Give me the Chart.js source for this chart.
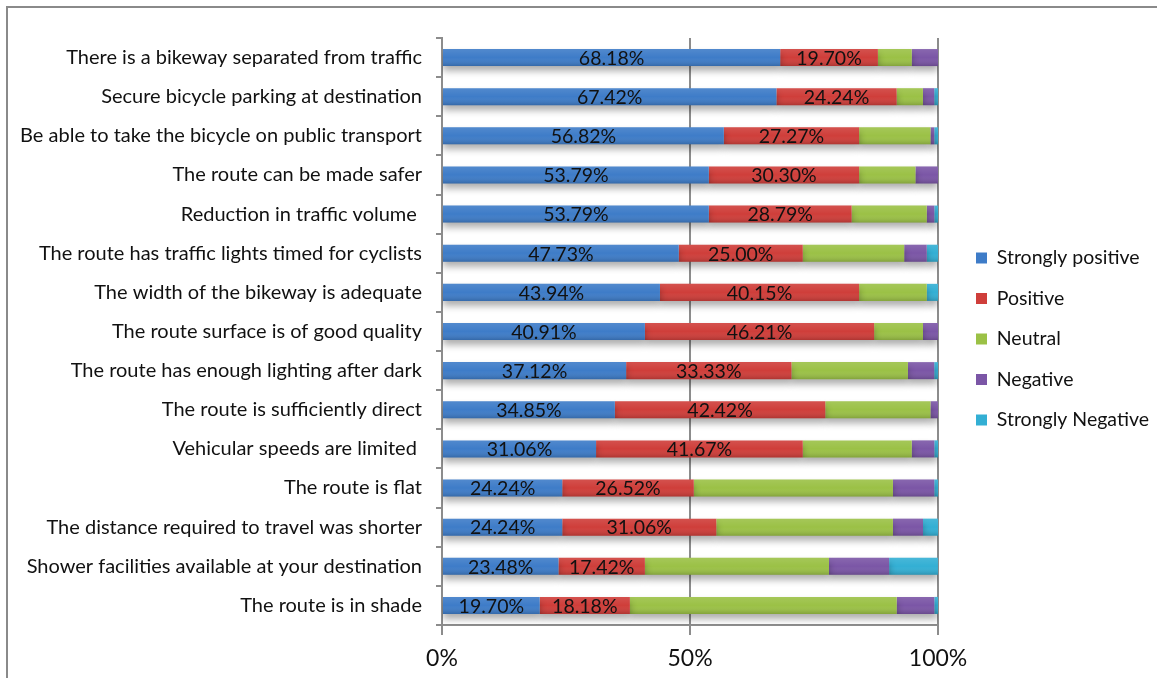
<!DOCTYPE html>
<html>
<head>
<meta charset="utf-8">
<script src="https://cdn.jsdelivr.net/npm/chart.js@4.4.1/dist/chart.umd.min.js"></script>
<style>
  html, body { margin: 0; padding: 0; background: #fff; }
  #wrap { width: 1157px; height: 678px; position: relative; }
</style>
</head>
<body>
<div id="wrap"><canvas id="chart"></canvas></div>
<script>
'use strict';

const categories = [
  'There is a bikeway separated from traffic',
  'Secure bicycle parking at destination',
  'Be able to take the bicycle on public transport',
  'The route can be made safer',
  'Reduction in traffic volume ',
  'The route has traffic lights timed for cyclists',
  'The width of the bikeway is adequate',
  'The route surface is of good quality',
  'The route has enough lighting after dark',
  'The route is sufficiently direct',
  'Vehicular speeds are limited ',
  'The route is flat',
  'The distance required to travel was shorter',
  'Shower facilities available at your destination',
  'The route is in shade',
];

const seriesNames = ['Strongly positive', 'Positive', 'Neutral', 'Negative', 'Strongly Negative'];

const stronglyPositive = [68.18, 67.42, 56.82, 53.79, 53.79, 47.73, 43.94, 40.91, 37.12, 34.85, 31.06, 24.24, 24.24, 23.48, 19.70];
const positive = [19.70, 24.24, 27.27, 30.30, 28.79, 25.00, 40.15, 46.21, 33.33, 42.42, 41.67, 26.52, 31.06, 17.42, 18.18];
const neutral = [6.82, 5.30, 14.39, 11.36, 15.15, 20.45, 13.64, 9.85, 23.48, 21.21, 21.97, 40.15, 35.61, 37.12, 53.79];
const negative = [5.30, 2.27, 0.76, 4.55, 1.52, 4.55, 0, 3.03, 5.30, 1.52, 4.55, 8.33, 6.06, 12.12, 7.58];
const stronglyNegative = [0, 0.76, 0.76, 0, 0.76, 2.27, 2.27, 0, 0.76, 0, 0.76, 0.76, 3.03, 9.85, 0.76];

const xTicks = [0, 50, 100];

const colors = ['#3e7cc8', '#cf3e3a', '#9bc146', '#7b56a6', '#33afd4'];
const FONT = 'Lato, "Open Sans", sans-serif';
const TEXT_SIZE = 19.5;

// outer frame around the whole chart
const framePlugin = {
  id: 'frame',
  beforeDraw(chart) {
    const ctx = chart.ctx;
    ctx.save();
    ctx.fillStyle = '#fff';
    ctx.fillRect(0, 0, chart.width, chart.height);
    ctx.strokeStyle = '#8a8a8a';
    ctx.lineWidth = 2;
    ctx.strokeRect(7, 7, chart.width + 10, chart.height + 10);
    ctx.restore();
  }
};

// park the legend column next to the plot, centred on the page height
const legendPlace = {
  id: 'legendPlace',
  afterLayout(chart) {
    const lg = chart.legend;
    const w = lg.right - lg.left;
    lg.left = 955;
    lg.right = lg.left + w;
    lg.top = 0;
    lg.bottom = chart.height;
  }
};

// soft drop shadow under the bars, plus a light top-to-bottom shading
const shadePlugin = {
  id: 'shade',
  beforeDatasetsDraw(chart) {
    const ctx = chart.ctx;
    ctx.save();
    ctx.shadowColor = 'rgba(0,0,0,0.32)';
    ctx.shadowBlur = 7;
    ctx.shadowOffsetY = 5;
  },
  afterDatasetsDraw(chart) {
    const ctx = chart.ctx;
    ctx.restore();
    ctx.save();
    chart.data.datasets.forEach((ds, i) => {
      chart.getDatasetMeta(i).data.forEach(bar => {
        const p = bar.getProps(['x', 'y', 'base', 'height'], true);
        const w = p.x - p.base;
        if (w <= 0) return;
        const top = p.y - p.height / 2;
        const g = ctx.createLinearGradient(0, top, 0, top + p.height);
        g.addColorStop(0, 'rgba(255,255,255,0.10)');
        g.addColorStop(0.5, 'rgba(255,255,255,0)');
        g.addColorStop(1, 'rgba(0,0,0,0.16)');
        ctx.fillStyle = g;
        ctx.fillRect(p.base, top, w, p.height);
      });
    });
    ctx.restore();
  }
};

// value labels on the first two series
const valueLabels = {
  id: 'valueLabels',
  afterDatasetsDraw(chart) {
    const ctx = chart.ctx;
    ctx.save();
    ctx.font = TEXT_SIZE + 'px ' + FONT;
    ctx.fillStyle = '#111';
    ctx.textAlign = 'center';
    ctx.textBaseline = 'middle';
    [0, 1].forEach(i => {
      const values = chart.data.datasets[i].data;
      chart.getDatasetMeta(i).data.forEach((bar, j) => {
        const p = bar.getProps(['x', 'y', 'base'], true);
        ctx.fillText(values[j].toFixed(2) + '%', (p.x + p.base) / 2, p.y + 1);
      });
    });
    ctx.restore();
  }
};

const seriesData = [stronglyPositive, positive, neutral, negative, stronglyNegative];

new Chart(document.getElementById('chart'), {
  type: 'bar',
  data: {
    labels: categories,
    datasets: seriesNames.map((name, i) => ({
      label: name,
      data: seriesData[i],
      backgroundColor: colors[i],
      borderWidth: 0,
      categoryPercentage: 1,
      barPercentage: 0.435,
    })),
  },
  options: {
    indexAxis: 'y',
    responsive: true,
    maintainAspectRatio: false,
    animation: false,
    layout: { padding: { left: 8, top: 38, right: 15, bottom: 0 } },
    scales: {
      x: {
        stacked: true,
        min: 0,
        max: 100,
        afterBuildTicks(scale) {
          scale.ticks = xTicks.map(v => ({ value: v }));
        },
        afterFit(scale) { scale.height = 53; },
        ticks: {
          callback: v => v + '%',
          color: '#111',
          font: { family: FONT, size: 23 },
          padding: 10,
          maxRotation: 0,
        },
        grid: { color: '#8c8c8c', lineWidth: 2, tickLength: 10 },
        border: { color: '#8c8c8c', width: 2 },
      },
      y: {
        stacked: true,
        afterFit(scale) { scale.width = 434; },
        ticks: {
          color: '#111',
          font: { family: FONT, size: 20 },
          padding: 14,
        },
        grid: { drawOnChartArea: false, color: '#8c8c8c', lineWidth: 2, tickLength: 6 },
        border: { color: '#8c8c8c', width: 2 },
      },
    },
    plugins: {
      legend: {
        position: 'right',
        labels: {
          boxWidth: 11,
          boxHeight: 11,
          padding: 21,
          color: '#111',
          font: { family: FONT, size: TEXT_SIZE },
        },
      },
      tooltip: { enabled: false },
    },
  },
  plugins: [framePlugin, legendPlace, shadePlugin, valueLabels],
});
</script>
</body>
</html>
